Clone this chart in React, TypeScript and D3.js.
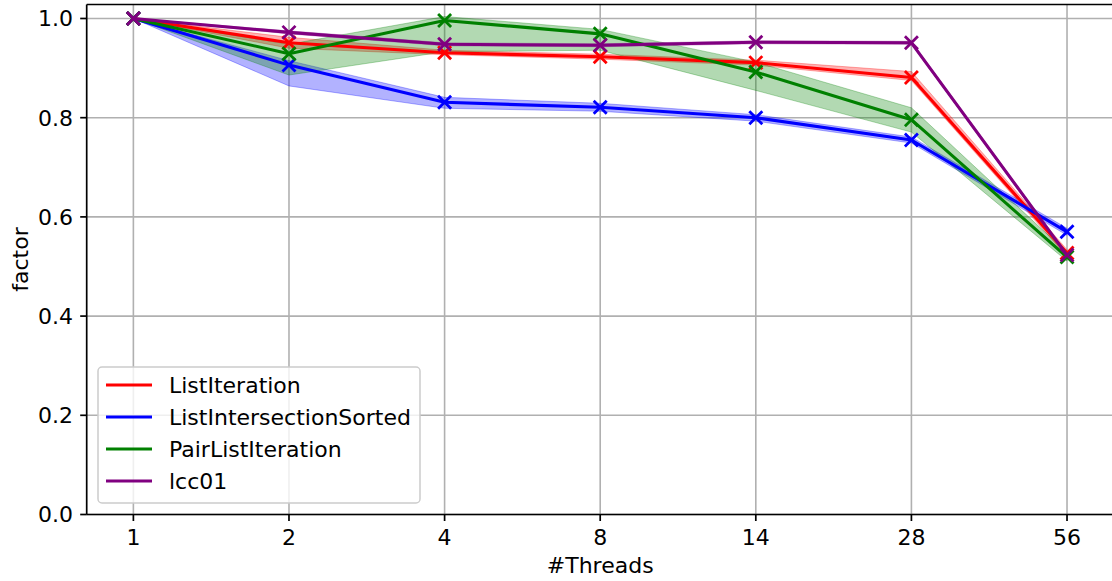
import React, { useEffect } from "react";
import * as d3 from "d3";

const threads = ["1", "2", "4", "8", "14", "28", "56"];
const seriesNames = ["ListIteration", "ListIntersectionSorted", "PairListIteration", "lcc01"];
const seriesColors = ["#ff0000", "#0000ff", "#008000", "#800080"];

const listIteration = [1.0, 0.951, 0.931, 0.923, 0.911, 0.881, 0.527];
const listIterationLo = [1.0, 0.94, 0.927, 0.918, 0.906, 0.875, 0.52];
const listIterationHi = [1.0, 0.962, 0.936, 0.928, 0.916, 0.893, 0.534];

const listIntersectionSorted = [1.0, 0.906, 0.831, 0.821, 0.8, 0.755, 0.57];
const listIntersectionSortedLo = [1.0, 0.864, 0.819, 0.813, 0.793, 0.749, 0.563];
const listIntersectionSortedHi = [1.0, 0.915, 0.841, 0.829, 0.806, 0.761, 0.577];

const pairListIteration = [1.0, 0.929, 0.996, 0.969, 0.892, 0.796, 0.519];
const pairListIterationLo = [1.0, 0.886, 0.933, 0.936, 0.855, 0.771, 0.511];
const pairListIterationHi = [1.0, 0.948, 1.004, 0.978, 0.912, 0.82, 0.528];

const lcc01 = [1.0, 0.972, 0.948, 0.946, 0.952, 0.951, 0.523];
const lcc01Lo = [1.0, 0.969, 0.945, 0.943, 0.949, 0.948, 0.52];
const lcc01Hi = [1.0, 0.975, 0.951, 0.949, 0.955, 0.954, 0.526];

const yTicks = [0.0, 0.2, 0.4, 0.6, 0.8, 1.0];

const means = [listIteration, listIntersectionSorted, pairListIteration, lcc01];
const lows = [listIterationLo, listIntersectionSortedLo, pairListIterationLo, lcc01Lo];
const highs = [listIterationHi, listIntersectionSortedHi, pairListIterationHi, lcc01Hi];

const W = 1112;
const H = 581;
const left = 86.7;
const right = 1113.7;
const top = 4.5;
const bottom = 514.5;
const FONT = "'DejaVu Sans', sans-serif";
const FS = 22;

export default function App() {
  useEffect(() => {
    document.body.style.margin = "0";
  }, []);

  const x = d3.scaleLinear().domain([-0.3, threads.length - 1 + 0.3]).range([left, right]);
  const y = d3.scaleLinear().domain([0, 1.0282]).range([bottom, top]);

  const line = d3
    .line<number>()
    .x((_, i) => x(i))
    .y((d) => y(d));

  const area = (lo: number[], hi: number[]) =>
    d3
      .area<number>()
      .x((_, i) => x(i))
      .y0((_, i) => y(lo[i]))
      .y1((_, i) => y(hi[i]))(lo);

  const ms = 6.5;

  return (
    <svg
      width={W}
      height={H}
      style={{ position: "absolute", left: 0, top: 0, background: "#fff" }}
      fontFamily={FONT}
    >
      <rect x={0} y={0} width={W} height={H} fill="#fff" />
      {/* grid */}
      <g stroke="#b0b0b0" strokeWidth={1.6}>
        {threads.map((t, i) => (
          <line key={"gx" + t} x1={x(i)} x2={x(i)} y1={top} y2={bottom} />
        ))}
        {yTicks.map((v) => (
          <line key={"gy" + v} x1={left} x2={right} y1={y(v)} y2={y(v)} />
        ))}
      </g>
      {/* bands */}
      {means.map((_, s) => (
        <path
          key={"band" + s}
          d={area(lows[s], highs[s]) || ""}
          fill={seriesColors[s]}
          fillOpacity={0.3}
          stroke={seriesColors[s]}
          strokeOpacity={0.3}
          strokeWidth={1}
        />
      ))}
      {/* lines + markers */}
      {means.map((m, s) => (
        <g key={"ln" + s}>
          <path d={line(m) || ""} fill="none" stroke={seriesColors[s]} strokeWidth={3.1} strokeLinejoin="round" strokeLinecap="square" />
          {m.map((v, i) => (
            <path
              key={i}
              d={`M${x(i) - ms},${y(v) - ms}L${x(i) + ms},${y(v) + ms}M${x(i) - ms},${y(v) + ms}L${x(i) + ms},${y(v) - ms}`}
              stroke={seriesColors[s]}
              strokeWidth={2.8}
              fill="none"
            />
          ))}
        </g>
      ))}
      {/* spines */}
      <g stroke="#000" strokeWidth={1.7} fill="none">
        <line x1={left} x2={left} y1={top} y2={bottom} />
        <line x1={left} x2={right} y1={bottom} y2={bottom} />
        <line x1={left} x2={right} y1={top} y2={top} />
        <line x1={right} x2={right} y1={top} y2={bottom} />
      </g>
      {/* y ticks */}
      {yTicks.map((v) => (
        <g key={"yt" + v}>
          <line x1={left - 6.5} x2={left} y1={y(v)} y2={y(v)} stroke="#000" strokeWidth={1.7} />
          <text x={73} y={y(v)} dy="0.36em" textAnchor="end" fontSize={FS} fill="#000">
            {v.toFixed(1)}
          </text>
        </g>
      ))}
      {/* x ticks */}
      {threads.map((t, i) => (
        <g key={"xt" + t}>
          <line x1={x(i)} x2={x(i)} y1={bottom} y2={bottom + 6.5} stroke="#000" strokeWidth={1.7} />
          <text x={x(i)} y={544.5} textAnchor="middle" fontSize={FS} fill="#000">
            {t}
          </text>
        </g>
      ))}
      {/* axis labels */}
      <text x={(left + right) / 2} y={573} textAnchor="middle" fontSize={FS} fill="#000">
        #Threads
      </text>
      <text
        transform={`translate(28,${(top + bottom) / 2}) rotate(-90)`}
        textAnchor="middle"
        fontSize={FS}
        fill="#000"
      >
        factor
      </text>
      {/* legend */}
      <g>
        <rect x={98} y={367} width={322} height={136} rx={4} fill="#fff" fillOpacity={0.8} stroke="#cccccc" strokeWidth={1.5} />
        {seriesNames.map((n, s) => {
          const cy = 385 + s * 32;
          return (
            <g key={"lg" + n}>
              <line x1={106} x2={152} y1={cy} y2={cy} stroke={seriesColors[s]} strokeWidth={3.1} />
              <text x={169} y={cy} dy="0.36em" fontSize={FS} fill="#000">
                {n}
              </text>
            </g>
          );
        })}
      </g>
    </svg>
  );
}
